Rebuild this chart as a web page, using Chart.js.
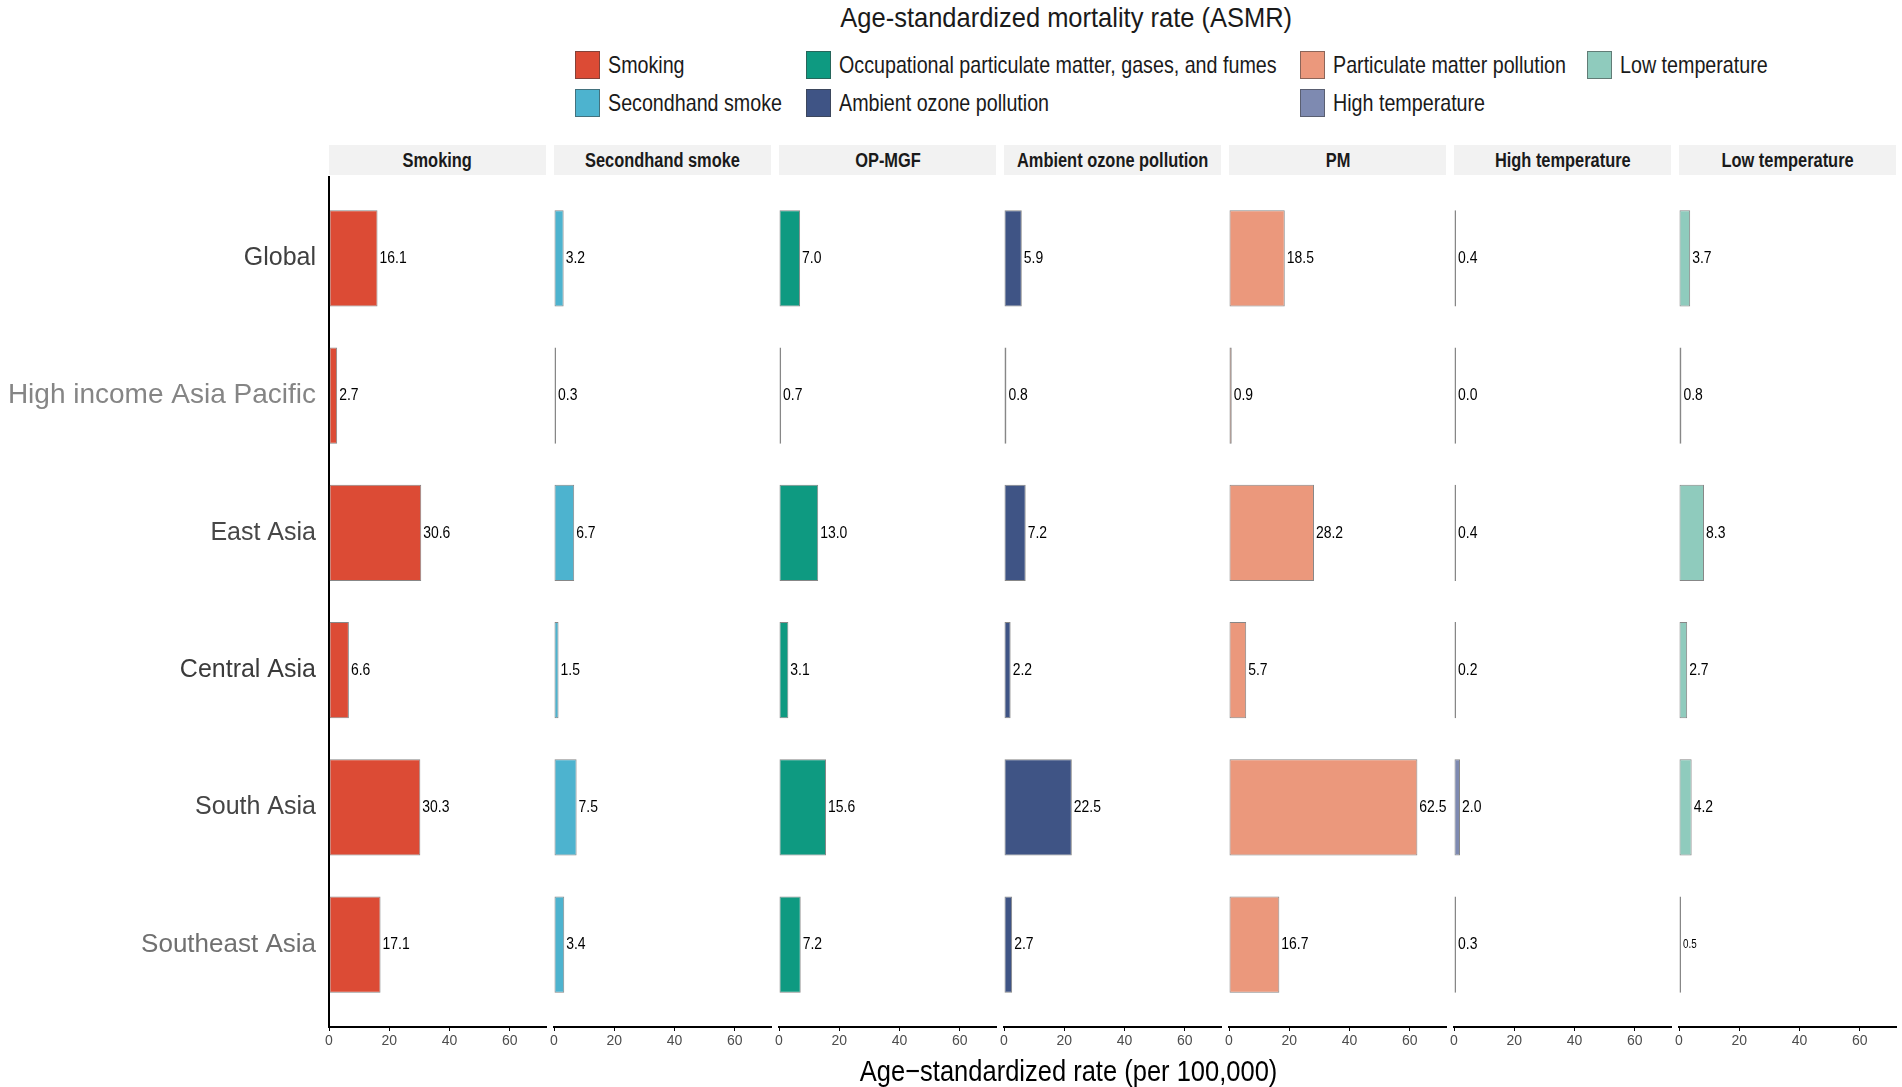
<!DOCTYPE html>
<html>
<head>
<meta charset="utf-8">
<title>ASMR by risk factor</title>
<script src="https://cdn.jsdelivr.net/npm/chart.js@4.4.1/dist/chart.umd.min.js"></script>
<style>
  html, body { margin: 0; padding: 0; background: #fff; }
  body {
    width: 1902px; height: 1087px; position: relative; overflow: hidden;
    font-family: "Liberation Sans", Arial, sans-serif;
    color: #1a1a1a;
  }
  .abs { position: absolute; }
  /* no narrow face installed, so squeeze Liberation Sans to an Arial Narrow width */
  .nar { display: inline-block; transform: scaleX(0.82); white-space: nowrap; flex: none; }
  #title { left: 566px; top: 4px; width: 1000px; text-align: center; font-size: 28px; line-height: 28px; }
  #title .nar { transform: scaleX(0.91); transform-origin: center; }
  .leg { height: 28px; font-size: 24px; line-height: 28px; white-space: nowrap; }
  .leg i { position: absolute; left: 0; top: 0; width: 23px; height: 26px; border: 1px solid rgba(60,60,60,0.55); }
  .leg .nar { position: absolute; left: 33px; top: 0; transform-origin: left center; }
  .strip { top: 145px; width: 217px; height: 30px; background: #f2f2f2;
           display: flex; justify-content: center; align-items: center;
           font-weight: bold; font-size: 20px; line-height: 30px; white-space: nowrap; }
  .strip .nar { transform-origin: center; }
  #xtitle { left: 569px; top: 1056px; width: 1000px; text-align: center; font-size: 30px; line-height: 30px; color: #000; }
  #xtitle .nar { transform: scaleX(0.85); transform-origin: center; }
  canvas { position: absolute; top: 176px; }
</style>
</head>
<body>
<div id="title" class="abs"><span class="nar">Age-standardized mortality rate (ASMR)</span></div>
<div id="legend"></div>
<div id="strips"></div>
<div id="panels"></div>
<div id="xtitle" class="abs"><span class="nar">Age&#8722;standardized rate (per 100,000)</span></div>

<script>
// regions, top to bottom
const regions = ["Global", "High income Asia Pacific", "East Asia", "Central Asia", "South Asia", "Southeast Asia"];

// panel (strip) titles and legend names
const panelTitles = ["Smoking", "Secondhand smoke", "OP-MGF", "Ambient ozone pollution", "PM", "High temperature", "Low temperature"];
const legendNames = ["Smoking", "Secondhand smoke", "Occupational particulate matter, gases, and fumes",
  "Ambient ozone pollution", "Particulate matter pollution", "High temperature", "Low temperature"];

// ASMR per 100,000, one array per risk factor, in region order
const smoking       = [16.1, 2.7, 30.6, 6.6, 30.3, 17.1];
const secondhand    = [3.2, 0.3, 6.7, 1.5, 7.5, 3.4];
const opmgf         = [7.0, 0.7, 13.0, 3.1, 15.6, 7.2];
const ozone         = [5.9, 0.8, 7.2, 2.2, 22.5, 2.7];
const pm            = [18.5, 0.9, 28.2, 5.7, 62.5, 16.7];
const highTemp      = [0.4, 0.0, 0.4, 0.2, 2.0, 0.3];
const lowTemp       = [3.7, 0.8, 8.3, 2.7, 4.2, 0.5];

const xTicks = [0, 20, 40, 60];
const xMax = 72;

const colors = ["#DC4B35", "#4DB3CF", "#0E9A81", "#3F5485", "#EB987C", "#7E8AB1", "#8FCBBD"];
const regionColors = ["#404040", "#858585", "#474747", "#3a3a3a", "#454545", "#707070"];
const regionSizes = [25, 28, 25, 25, 25, 26];

const series = [smoking, secondhand, opmgf, ozone, pm, highTemp, lowTemp];
const SANS = '"Liberation Sans", Arial, sans-serif';

// legend, filled column by column (2 rows)
const legendSpots = [[575, 51], [575, 89], [806, 51], [806, 89], [1300, 51], [1300, 89], [1587, 51]];
const legendBox = document.getElementById('legend');
legendNames.forEach((name, i) => {
  const el = document.createElement('div');
  el.className = 'abs leg';
  el.style.left = legendSpots[i][0] + 'px';
  el.style.top = legendSpots[i][1] + 'px';
  el.innerHTML = `<i style="background:${colors[i]}"></i><span class="nar">${name}</span>`;
  legendBox.appendChild(el);
});

const valueLabels = {
  id: 'valueLabels',
  afterDatasetsDraw(chart) {
    const ctx = chart.ctx;
    const meta = chart.getDatasetMeta(0);
    const data = chart.data.datasets[0].data;
    const panel = chart.options.plugins.valueLabels.panel;
    ctx.save();
    ctx.fillStyle = '#000';
    ctx.textAlign = 'left';
    ctx.textBaseline = 'middle';
    meta.data.forEach((bar, k) => {
      // the last low-temperature label is printed smaller in the original
      const size = (panel === 6 && k === 5) ? 12 : 17;
      ctx.font = `${size}px ${SANS}`;
      ctx.save();
      ctx.translate(bar.x + 2, bar.y);
      ctx.scale(0.82, 1);
      ctx.fillText(data[k].x.toFixed(1), 0, 0);
      ctx.restore();
    });
    ctx.restore();
  }
};

const stripBox = document.getElementById('strips');
const panelBox = document.getElementById('panels');

series.forEach((vals, i) => {
  const left = 329 + i * 225;
  const first = i === 0;

  const strip = document.createElement('div');
  strip.className = 'abs strip';
  strip.style.left = left + 'px';
  strip.innerHTML = `<span class="nar">${panelTitles[i]}</span>`;
  stripBox.appendChild(strip);

  const canvas = document.createElement('canvas');
  const padL = first ? 0 : 10;
  canvas.width = first ? left + 217 + 10 : 237;
  canvas.height = 891;
  canvas.style.left = (first ? 0 : left - 10) + 'px';
  panelBox.appendChild(canvas);

  new Chart(canvas, {
    type: 'bar',
    data: {
      datasets: [{
        data: vals.map((v, k) => ({ x: v, y: k })),
        backgroundColor: colors[i],
        borderColor: 'rgba(55,55,55,0.6)',
        borderWidth: 1,
        borderSkipped: false,
        minBarLength: 2,
        categoryPercentage: 0.7,
        barPercentage: 1
      }]
    },
    options: {
      indexAxis: 'y',
      responsive: false,
      animation: false,
      events: [],
      layout: { padding: { left: padL, right: 10, top: 0, bottom: 0 } },
      plugins: {
        legend: { display: false },
        tooltip: { enabled: false },
        valueLabels: { panel: i }
      },
      scales: {
        x: {
          type: 'linear',
          min: 0,
          max: xMax,
          afterBuildTicks: ax => { ax.ticks = xTicks.map(v => ({ value: v })); },
          afterFit: ax => { ax.height = 40; ax.paddingLeft = 0; ax.paddingRight = 0; },
          grid: { display: true, drawOnChartArea: false, drawTicks: true, tickLength: 4, color: '#000', lineWidth: 1 },
          border: { display: true, color: '#000', width: 2 },
          ticks: { color: '#4d4d4d', font: { family: SANS, size: 14 }, padding: 2, maxRotation: 0, autoSkip: false }
        },
        y: {
          type: 'linear',
          min: -0.6,
          max: regions.length - 0.4,
          reverse: true,
          offset: false,
          display: first,
          afterBuildTicks: ax => { ax.ticks = regions.map((r, k) => ({ value: k })); },
          afterFit: ax => { ax.width = first ? left : 0; ax.paddingTop = 0; ax.paddingBottom = 0; },
          grid: { display: false, offset: false },
          border: { display: true, color: '#000', width: 2 },
          ticks: {
            autoSkip: false,
            padding: 5,
            callback: v => regions[v],
            color: c => regionColors[c.index],
            font: c => ({ family: SANS, size: regionSizes[c.index] })
          }
        }
      }
    },
    plugins: [valueLabels]
  });
});
</script>
</body>
</html>
